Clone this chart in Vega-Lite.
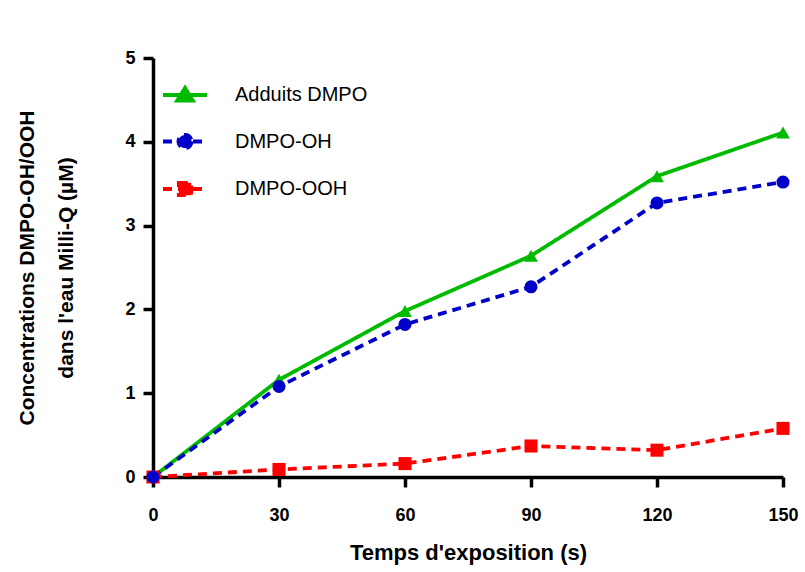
{
  "$schema": "https://vega.github.io/schema/vega-lite/v6.json",
  "width": 630,
  "height": 419,
  "autosize": {"type": "none"},
  "padding": {"left": 153, "top": 58, "right": 22, "bottom": 95},
  "background": "white",
  "config": {
    "view": {"stroke": null},
    "font": "Liberation Sans"
  },
  "data": {
    "values": [
      {"t": 0, "c": 0, "series": "Adduits DMPO"},
      {"t": 30, "c": 1.16, "series": "Adduits DMPO"},
      {"t": 60, "c": 1.98, "series": "Adduits DMPO"},
      {"t": 90, "c": 2.64, "series": "Adduits DMPO"},
      {"t": 120, "c": 3.59, "series": "Adduits DMPO"},
      {"t": 150, "c": 4.11, "series": "Adduits DMPO"},
      {"t": 0, "c": 0, "series": "DMPO-OH"},
      {"t": 30, "c": 1.08, "series": "DMPO-OH"},
      {"t": 60, "c": 1.82, "series": "DMPO-OH"},
      {"t": 90, "c": 2.27, "series": "DMPO-OH"},
      {"t": 120, "c": 3.27, "series": "DMPO-OH"},
      {"t": 150, "c": 3.52, "series": "DMPO-OH"},
      {"t": 0, "c": 0, "series": "DMPO-OOH"},
      {"t": 30, "c": 0.09, "series": "DMPO-OOH"},
      {"t": 60, "c": 0.16, "series": "DMPO-OOH"},
      {"t": 90, "c": 0.37, "series": "DMPO-OOH"},
      {"t": 120, "c": 0.32, "series": "DMPO-OOH"},
      {"t": 150, "c": 0.58, "series": "DMPO-OOH"}
    ]
  },
  "encoding": {
    "x": {
      "field": "t", "type": "quantitative",
      "scale": {"domain": [0, 150], "nice": false, "zero": false},
      "axis": {
        "values": [0, 30, 60, 90, 120, 150],
        "title": "Temps d'exposition (s)",
        "grid": false,
        "domainColor": "black", "domainWidth": 3.5,
        "tickColor": "black", "tickWidth": 3.5, "tickSize": 10,
        "labelFont": "Liberation Sans", "labelFontWeight": "bold", "labelFontSize": 18, "labelColor": "black",
        "labelPadding": 19, "labelFlush": false,
        "titleFont": "Liberation Sans", "titleFontWeight": "bold", "titleFontSize": 22, "titleColor": "black",
        "titlePadding": 18
      }
    },
    "y": {
      "field": "c", "type": "quantitative",
      "scale": {"domain": [0, 5], "nice": false},
      "axis": {
        "values": [0, 1, 2, 3, 4, 5],
        "title": ["Concentrations DMPO-OH/OOH", "dans l'eau Milli-Q (µM)"],
        "grid": false,
        "domainColor": "black", "domainWidth": 3.5,
        "tickColor": "black", "tickWidth": 3.5, "tickSize": 10,
        "labelFont": "Liberation Sans", "labelFontWeight": "bold", "labelFontSize": 18, "labelColor": "black",
        "labelPadding": 8, "labelFlush": false,
        "titleFont": "Liberation Sans", "titleFontWeight": "bold", "titleFontSize": 21, "titleColor": "black",
        "titleLineHeight": 39,
        "titlePadding": 48
      }
    },
    "color": {
      "field": "series", "type": "nominal",
      "scale": {"domain": ["Adduits DMPO", "DMPO-OH", "DMPO-OOH"], "range": ["#00bb00", "#0000c8", "#ff0000"]},
      "legend": {
        "title": null, "orient": "none", "legendX": 8, "legendY": 13,
        "labelFont": "Liberation Sans", "labelFontSize": 20, "labelColor": "black",
        "symbolSize": 1936, "rowPadding": 8.5, "labelOffset": 26, "symbolStrokeWidth": 3.8,
        "encode": {
          "symbols": {
            "enter": {
              "shape": {"signal": "datum.value === 'Adduits DMPO' ? 'M-1,0L1,0M0,-0.32L0.36,0.26L-0.36,0.26Z' : datum.value === 'DMPO-OH' ? 'M-1,0L1,0M0.3,0A0.3,0.3 0 1,1 -0.3,0A0.3,0.3 0 1,1 0.3,0Z' : 'M-1,0L1,0M-0.28,-0.28L0.28,-0.28L0.28,0.28L-0.28,0.28Z'"}
            },
            "update": {
              "shape": {"signal": "datum.value === 'Adduits DMPO' ? 'M-1,0L1,0M0,-0.32L0.36,0.26L-0.36,0.26Z' : datum.value === 'DMPO-OH' ? 'M-1,0L1,0M0.3,0A0.3,0.3 0 1,1 -0.3,0A0.3,0.3 0 1,1 0.3,0Z' : 'M-1,0L1,0M-0.28,-0.28L0.28,-0.28L0.28,0.28L-0.28,0.28Z'"}
            }
          }
        }
      }
    }
  },
  "layer": [
    {
      "mark": {"type": "line", "strokeWidth": 3.8},
      "encoding": {
        "strokeDash": {
          "field": "series", "type": "nominal",
          "scale": {"domain": ["Adduits DMPO", "DMPO-OH", "DMPO-OOH"], "range": [[1, 0], [9, 6], [9, 6]]},
          "legend": null
        }
      }
    },
    {
      "transform": [{"filter": "datum.series === 'Adduits DMPO'"}],
      "mark": {"type": "point", "filled": true, "opacity": 1, "size": 190, "shape": "triangle-up"}
    },
    {
      "transform": [{"filter": "datum.series === 'DMPO-OOH'"}],
      "mark": {"type": "point", "filled": true, "opacity": 1, "size": 170, "shape": "square"}
    },
    {
      "transform": [{"filter": "datum.series === 'DMPO-OH'"}],
      "mark": {"type": "point", "filled": true, "opacity": 1, "size": 170, "shape": "circle"}
    }
  ]
}
